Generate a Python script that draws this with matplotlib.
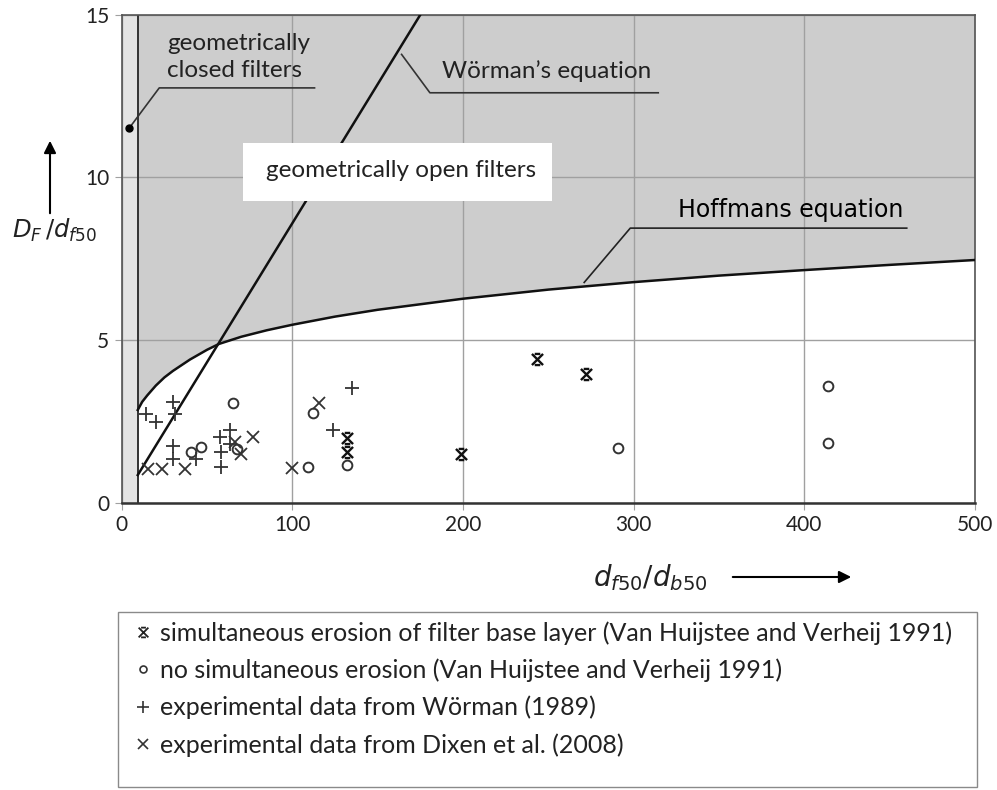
import matplotlib
matplotlib.use('Agg')
import matplotlib.pyplot as plt
from matplotlib.path import Path
from matplotlib.lines import Line2D
from matplotlib.patches import Rectangle, FancyArrowPatch

plt.rcParams['font.family'] = ['Lato', 'DejaVu Sans']

# Hoffmans curve
hoff_x = [9.4, 12, 15, 20, 25, 30, 40, 50, 57, 70, 85, 100, 125, 150, 200, 250, 300, 350, 400, 450, 500]
hoff_y = [2.85, 3.1, 3.3, 3.6, 3.85, 4.05, 4.4, 4.7, 4.88, 5.1, 5.3, 5.47, 5.72, 5.93, 6.27, 6.55, 6.78, 6.98, 7.15, 7.31, 7.46]

# Wörman's equation (straight line)
worm_x = [9.4, 175]
worm_y = [0.85, 15]

# simultaneous erosion of filter base layer
sim_x = [131.8, 131.8, 198.6, 243.1, 271.8]
sim_y = [1.98, 1.57, 1.5, 4.41, 3.95]

# no simultaneous erosion
no_x = [65.4, 40.6, 46.5, 67.4, 111.9, 109.3, 131.8, 290.9, 413.6, 413.6]
no_y = [3.06, 1.57, 1.72, 1.64, 2.75, 1.09, 1.16, 1.67, 3.59, 1.83]

# Wörman (1989)
worman_x = [14.1, 19.9, 30.2, 31.2, 30.2, 29.9, 43.4, 57.6, 63.4, 58, 58, 63.4, 124, 134.7]
worman_y = [2.73, 2.49, 3.08, 2.72, 1.74, 1.33, 1.33, 2.01, 2.22, 1.57, 1.09, 1.8, 2.24, 3.52]

# Dixen et al. (2008)
dixen_x = [15.6, 23.8, 37.1, 99.6, 66.4, 69.9, 77.1, 115.8]
dixen_y = [1.03, 1.03, 1.03, 1.06, 1.88, 1.5, 2.01, 3.06]

legend_labels = [
    'simultaneous erosion of filter base layer (Van Huijstee and Verheij 1991)',
    'no simultaneous erosion (Van Huijstee and Verheij 1991)',
    'experimental data from Wörman (1989)',
    'experimental data from Dixen et al. (2008)',
]

# marker: X with short caps on top and bottom
M, L = Path.MOVETO, Path.LINETO
sim_marker = Path([(-1, -1), (1, 1), (-1, 1), (1, -1), (-0.5, 1), (0.5, 1), (-0.5, -1), (0.5, -1)],
                  [M, L, M, L, M, L, M, L])

W, H = 997, 790
fig = plt.figure(figsize=(W / 100, H / 100), dpi=100)
ax = fig.add_axes([121.7 / W, 1 - 502.7 / H, 853.3 / W, 488 / H])

ink = '#222222'
fs = 17.5
ax.set_xlim(0, 500)
ax.set_ylim(0, 15)
ax.set_xticks([0, 100, 200, 300, 400, 500])
ax.set_yticks([0, 5, 10, 15])
ax.grid(True, color='#a0a0a0', lw=1.0)
ax.tick_params(direction='out', length=5, color='#a0a0a0', labelsize=15, labelcolor=ink, pad=4)
for s in ['top', 'right', 'left']:
    ax.spines[s].set_color('#555555')
    ax.spines[s].set_linewidth(1.2)
ax.spines['bottom'].set_color('#333333')
ax.spines['bottom'].set_linewidth(1.8)

# shaded regions
ax.axvspan(0, hoff_x[0], color='#e4e4e4', zorder=0.5, lw=0)
ax.fill_between(hoff_x, hoff_y, 15, color='#cdcdcd', zorder=0.5, lw=0)
ax.axvline(hoff_x[0], color='#333333', lw=1.4, zorder=2)

ax.plot(hoff_x, hoff_y, color='#111111', lw=1.8, zorder=3)
ax.plot(worm_x, worm_y, color='#111111', lw=1.8, zorder=3)

# white label box
ax.add_patch(Rectangle((71, 9.26), 181, 1.8, facecolor='white', edgecolor='none', zorder=4))
ax.text(84.6, 10.2, 'geometrically open filters', fontsize=fs, color=ink, va='center', zorder=5)

# closed filters label
ax.text(26.4, 14.13, 'geometrically', fontsize=fs, color=ink, va='center')
ax.text(26.4, 13.3, 'closed filters', fontsize=fs, color=ink, va='center')
ax.plot([4.5, 22, 113], [11.52, 12.75, 12.75], color='#333333', lw=1.2, zorder=3)
ax.plot([4.5], [11.52], 'o', color='black', ms=5, zorder=4)

# Wörman label
ax.text(187.5, 13.28, 'Wörman\u2019s equation', fontsize=fs, color=ink, va='center')
ax.plot([164, 180.6, 314.4], [13.78, 12.6, 12.6], color='#333333', lw=1.2, zorder=3)

# Hoffmans label
ax.text(326, 9.0, 'Hoffmans equation', fontsize=17, color='black', va='center',
        family=['DejaVu Sans'])
ax.plot([271, 298, 460], [6.77, 8.44, 8.44], color='#222222', lw=1.2, zorder=3)

# data
ax.plot(sim_x, sim_y, ls='none', marker=sim_marker, ms=8, mew=1.7, color='#111111', zorder=6)
ax.plot(no_x, no_y, ls='none', marker='o', ms=7, mew=1.4, mfc='none', mec='#333333', zorder=6)
ax.plot(worman_x, worman_y, ls='none', marker='+', ms=10, mew=1.3, color='#333333', zorder=6)
ax.plot(dixen_x, dixen_y, ls='none', marker='x', ms=9, mew=1.3, color='#333333', zorder=6)

# axis labels with arrows
fig.text(55 / W, 1 - 230 / H, '$D_F\\,/d_{f50}$', fontsize=17.5, color=ink, ha='center', va='center')
fig.add_artist(FancyArrowPatch((50 / W, 1 - 216 / H), (50 / W, 1 - 138 / H),
               transform=fig.transFigure, arrowstyle='-|>', mutation_scale=18, color='black', lw=1.5))
fig.text(650 / W, 1 - 578 / H, '$d_{f50}/d_{b50}$', fontsize=20, color=ink, ha='center', va='center')
fig.add_artist(FancyArrowPatch((730 / W, 1 - 577 / H), (854 / W, 1 - 577 / H),
               transform=fig.transFigure, arrowstyle='-|>', mutation_scale=18, color='black', lw=1.5))

# legend frame and entries
fig.add_artist(Rectangle((118 / W, 1 - 787 / H), 859 / W, 175 / H, transform=fig.transFigure,
                         facecolor='white', edgecolor='#8a8a8a', lw=1.0))
handles = [
    Line2D([], [], ls='none', marker=sim_marker, ms=7, mew=1.3, color='#222222'),
    Line2D([], [], ls='none', marker='o', ms=5, mew=1.2, mfc='none', mec='#333333'),
    Line2D([], [], ls='none', marker='+', ms=9, mew=1.2, color='#333333'),
    Line2D([], [], ls='none', marker='x', ms=7, mew=1.2, color='#333333'),
]
leg = fig.legend(handles, legend_labels, loc='upper left',
                 bbox_to_anchor=(133 / W, 1 - 621 / H), frameon=False,
                 fontsize=18, handlelength=0.8, handletextpad=0.3, labelspacing=0.55,
                 borderpad=0, borderaxespad=0)
for t in leg.get_texts():
    t.set_color(ink)

fig.savefig('out.png', dpi=100)
